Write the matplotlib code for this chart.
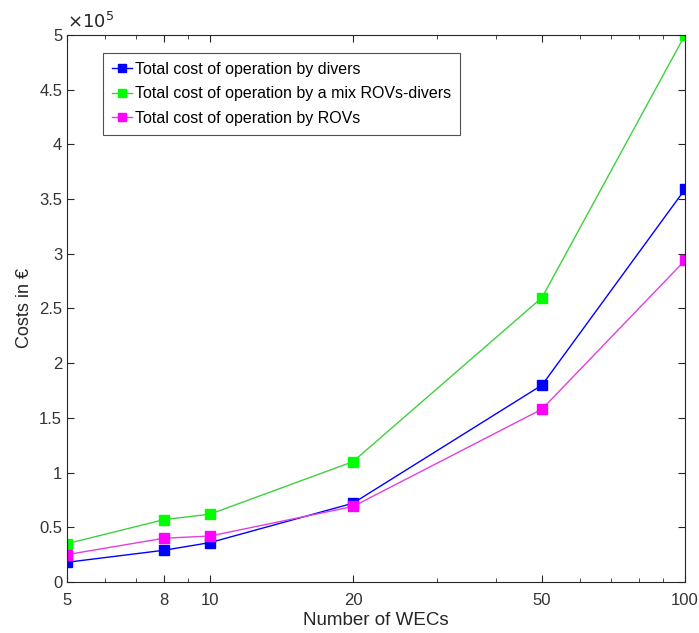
import matplotlib
matplotlib.use("Agg")
import matplotlib.pyplot as plt
from matplotlib.ticker import FixedLocator, NullFormatter

plt.rcParams['font.family'] = ['Liberation Sans', 'DejaVu Sans']

# number of WECs
wecs = [5, 8, 10, 20, 50, 100]
# costs in euro
divers = [18000, 29000, 36000, 72000, 180000, 359000]
mix = [35000, 57000, 62000, 110000, 260000, 500000]
rovs = [25000, 40000, 42000, 69000, 158000, 294000]

labels = ["Total cost of operation by divers",
          "Total cost of operation by a mix ROVs-divers",
          "Total cost of operation by ROVs"]
xticks = [5, 8, 10, 20, 50, 100]
yticks = [0, 0.5, 1, 1.5, 2, 2.5, 3, 3.5, 4, 4.5, 5]

fig = plt.figure(figsize=(6.99, 6.33), dpi=100)
ax = fig.add_axes([0.0959, 0.0806, 0.8841, 0.8641])

scale = 1e5
ax.plot(wecs, [v / scale for v in divers], '-s', color='blue', lw=1,
        ms=7, mfc='blue', mec='blue', label=labels[0])
ax.plot(wecs, [v / scale for v in mix], '-s', color='#3fd03f', lw=1,
        ms=7, mfc='#00ff00', mec='#00ff00', label=labels[1])
ax.plot(wecs, [v / scale for v in rovs], '-s', color='#e040e0', lw=1,
        ms=7, mfc='#ff00ff', mec='#ff00ff', label=labels[2])

ax.set_xscale('log')
ax.set_xlim(5, 100)
ax.set_ylim(0, 5)
ax.xaxis.set_major_locator(FixedLocator(xticks))
ax.set_xticklabels([str(t) for t in xticks])
ax.xaxis.set_minor_locator(FixedLocator([6, 7, 9, 30, 40, 60, 70, 80, 90]))
ax.xaxis.set_minor_formatter(NullFormatter())
ax.set_yticks(yticks)
ax.set_yticklabels(['0', '0.5', '1', '1.5', '2', '2.5', '3', '3.5', '4', '4.5', '5'])

ax.tick_params(which='both', direction='in', top=True, right=True,
               labelsize=12, colors='0.15', labelcolor='0.2', length=5)
ax.tick_params(axis='x', which='major', pad=8)
ax.tick_params(which='minor', length=3)
for s in ax.spines.values():
    s.set_color('0.15')
    s.set_linewidth(0.8)

ax.set_xlabel('Number of WECs', fontsize=13.5, color='0.15', labelpad=3)
ax.set_ylabel('Costs in €', fontsize=13, color='0.15', labelpad=4)
ax.text(0.0, 1.005, r'$\times10^5$', transform=ax.transAxes, fontsize=13,
        color='0.15', ha='left', va='bottom')

leg = ax.legend(loc='upper left', bbox_to_anchor=(0.058, 0.967), fontsize=11.5,
                frameon=True, fancybox=False, edgecolor='0.15', borderaxespad=0,
                handlelength=1.25, handletextpad=0.2, borderpad=0.55,
                labelspacing=0.6, markerscale=0.9)
leg.get_frame().set_linewidth(0.8)

fig.savefig('out.png', dpi=100)
